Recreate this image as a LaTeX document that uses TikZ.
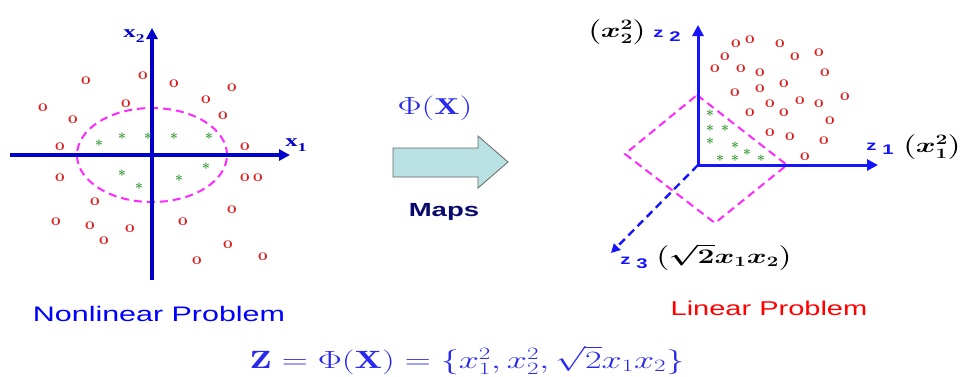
\documentclass[tikz,border=0pt]{standalone}
\usepackage{fontspec}
\usepackage{amsmath}
\usepackage{graphicx}
\usetikzlibrary{arrows.meta}
\newfontfamily\arialf{Liberation Sans}
\newfontfamily\timesf{Liberation Serif}
\definecolor{axblue}{RGB}{0,0,205}
\definecolor{zblue}{RGB}{20,20,255}
\definecolor{eqblue}{RGB}{40,40,240}
\definecolor{pinkd}{RGB}{255,40,255}
\definecolor{redo}{RGB}{220,30,30}
\definecolor{greens}{RGB}{40,150,40}
\definecolor{arrowfill}{RGB}{185,224,226}
\definecolor{navyt}{RGB}{10,10,110}
\newcommand{\hstretch}[1]{\scalebox{1.45}[1]{#1}}
\tikzset{
  axisline/.style={line width=3.5pt, draw=axblue},
  axisarrow/.style={axisline, -{Triangle[length=11pt,width=11pt]}},
  ring/.style={draw=pinkd, line width=2pt, dash pattern=on 8pt off 5pt},
  omark/.style={text=redo, inner sep=0pt, font=\fontsize{17}{17}\selectfont\bfseries},
  smark/.style={text=greens, inner sep=0pt, yshift=-2pt, font=\fontsize{14}{14}\selectfont\bfseries},
  lbl/.style={inner sep=0pt},
}
\begin{document}
\begin{tikzpicture}[x=1pt,y=-1pt]
\useasboundingbox (0,0) rectangle (963,376);

% ---------- left plot ----------
\coordinate (O1) at (152,155);
\coordinate (x1l) at (10,155);
\coordinate (x1r) at (290,155);
\coordinate (x2t) at (152,28);
\coordinate (x2b) at (152,280);
\draw[ring] (O1) ellipse [x radius=75pt, y radius=47pt];
\draw[axisarrow] (x1l) -- (x1r);
\draw[axisarrow] (x2b) -- (x2t);
\node[lbl, text=axblue] (lx2) at (134,36) {\hstretch{\timesf\bfseries\fontsize{17}{17}\selectfont x\raisebox{-5pt}{\fontsize{12}{12}\selectfont 2}}};
\node[lbl, text=axblue] (lx1) at (296,145) {\hstretch{\timesf\bfseries\fontsize{17}{17}\selectfont x\raisebox{-5pt}{\fontsize{12}{12}\selectfont 1}}};

\foreach \px/\py [count=\i] in {86/81,143/76,174/84,232/88,43/108,126/104,206/100,73/120,223/116,60/147,245/147,60/178,245/178,258/178,95/202,232/210,56/222,90/226,130/229,183/222,104/241,228/245,197/261,263/257}
  \node[omark] (lo\i) at (\px,\py) {o};
\foreach \px/\py [count=\i] in {99/143,122/136,148/136,174/136,209/136,122/173,139/186,179/178,206/166}
  \node[smark] (ls\i) at (\px,\py) {*};

% ---------- middle ----------
\node[lbl, text=eqblue] (phi) at (435,108) {\hstretch{\fontsize{23}{23}\selectfont$\Phi(\mathbf{X})$}};
\draw[draw=gray!80!black, line width=0.8pt, fill=arrowfill]
  (393,148) -- (478,148) -- (478,136) -- (508,162) -- (478,188) -- (478,177) -- (393,177) -- cycle;
\node[lbl, text=navyt] (maps) at (444,212) {\hstretch{\arialf\bfseries\fontsize{19}{19}\selectfont Maps}};

% ---------- right plot ----------
\coordinate (O2) at (698,165);
\coordinate (z2t) at (698,25);
\coordinate (z1r) at (878,165);
\coordinate (z3e) at (611,253);
\coordinate (dT) at (697,95);
\coordinate (dR) at (787,165);
\coordinate (dB) at (715,223);
\coordinate (dL) at (625,154);
\draw[ring] (dT) -- (dR) -- (dB) -- (dL) -- cycle;
\draw[axisline, line width=2.4pt, draw=zblue, dash pattern=on 8pt off 5pt, -{Triangle[length=9pt,width=9pt]}] (O2) -- (z3e);
\draw[axisarrow, line width=3pt, draw=zblue] (O2) -- (z2t);
\draw[axisarrow, line width=3pt, draw=zblue] (O2) -- (z1r);

\foreach \px/\py [count=\i] in {736/44,750/40,780/44,795/57,819/53,725/57,715/69,741/69,760/73,825/73,735/93,760/89,784/84,845/97,770/104,800/101,819/104,750/113,784/113,830/121,770/133,790/137,824/141,805/157}
  \node[omark] (ro\i) at (\px,\py) {o};
\foreach \px/\py [count=\i] in {710/113,710/128,725/128,710/141,735/145,720/158,735/158,747/152,761/158}
  \node[smark] (rs\i) at (\px,\py) {*};

\node[lbl, text=zblue] (lz2) at (667,36) {\hstretch{\arialf\bfseries\fontsize{14}{14}\selectfont z\hspace{4pt}\raisebox{-4pt}{2}}};
\node[lbl, text=zblue] (lz1) at (880,149) {\hstretch{\arialf\bfseries\fontsize{14}{14}\selectfont z\hspace{4pt}\raisebox{-4pt}{1}}};
\node[lbl, text=zblue] (lz3) at (634,263) {\hstretch{\arialf\bfseries\fontsize{14}{14}\selectfont z\hspace{4pt}\raisebox{-4pt}{3}}};
\node[lbl] (px2) at (617,32) {\hstretch{\fontsize{21}{21}\selectfont\boldmath$\bigl(x_2^2\bigr)$}};
\node[lbl] (px1) at (932,147) {\hstretch{\fontsize{21}{21}\selectfont\boldmath$\bigl(x_1^2\bigr)$}};
\node[lbl] (px3) at (724,257) {\hstretch{\fontsize{21}{21}\selectfont\boldmath$\bigl(\sqrt{2}x_1x_2\bigr)$}};

% ---------- captions ----------
\node[lbl, text=blue] (nonlin) at (159,314) {\hstretch{\arialf\fontsize{21}{21}\selectfont Nonlinear Problem}};
\node[lbl, text=red] (lin) at (769,308) {\hstretch{\arialf\fontsize{20}{20}\selectfont Linear Problem}};
\node[lbl, text=eqblue] (eq) at (467,360) {\hstretch{\fontsize{25}{25}\selectfont$\mathbf{Z}=\Phi(\mathbf{X})=\{x_1^2,x_2^2,\sqrt{2}x_1x_2\}$}};
\end{tikzpicture}
\end{document}
